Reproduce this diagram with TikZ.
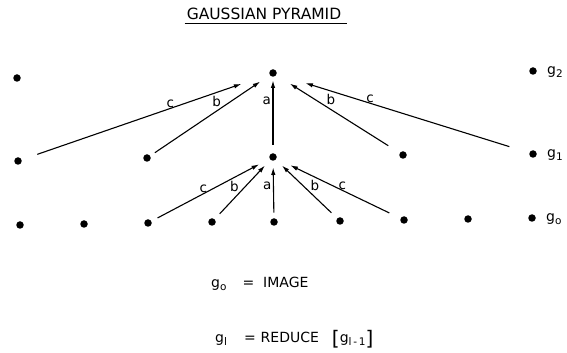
\documentclass[tikz,border=0pt]{standalone}
\usepackage{fontspec}
\setmainfont{DejaVu Sans}
\usetikzlibrary{arrows.meta,positioning}

\newcommand{\bigbrk}[1]{\raisebox{-3pt}{\fontsize{20}{20}\selectfont #1}}
\newcommand{\lowsub}[1]{\raisebox{-3pt}{\fontsize{10.5}{10.5}\selectfont #1}}

\begin{document}
\begin{tikzpicture}[
    x=1pt, y=1pt,
    dot/.style={circle, fill=black, inner sep=0pt, minimum size=7.5pt},
    link/.style={-{Latex[length=7.5pt,width=4.5pt]}, line width=1.1pt},
    lbl/.style={font=\fontsize{13.5}{13.5}\selectfont, inner sep=0.5pt},
    level/.style={font=\fontsize{14}{14}\selectfont, inner sep=0pt},
    formula/.style={font=\fontsize{14}{14}\selectfont, inner sep=0pt, anchor=base west}
  ]
  \useasboundingbox (0,0) rectangle (567,353);

  % Title
  \node[font=\fontsize{15.5}{15.5}\selectfont, inner sep=0pt] (title) at (264,339) {GAUSSIAN PYRAMID};
  \draw[line width=1.1pt] ([xshift=-2pt,yshift=-3pt]title.south west) -- ([xshift=6pt,yshift=-3pt]title.south east);

  % Level 0
  \node[dot] (b0) at (20,128) {};
  \node[dot] (b1) at (84,129) {};
  \node[dot] (b2) at (148,130) {};
  \node[dot] (b3) at (212,131) {};
  \node[dot] (b4) at (274,131) {};
  \node[dot] (b5) at (340,132) {};
  \node[dot] (b6) at (404,133) {};
  \node[dot] (b7) at (468,134) {};
  \node[dot] (b8) at (532,135) {};

  % Level 1
  \node[dot] (m0) at (18,192) {};
  \node[dot] (m2) at (147,195) {};
  \node[dot] (m4) at (273,196) {};
  \node[dot] (m6) at (403,198) {};
  \node[dot] (m8) at (533,199) {};

  % Level 2
  \node[dot] (t0) at (17,275) {};
  \node[dot] (t4) at (273,280) {};
  \node[dot] (t8) at (533,282) {};

  % Level names
  \node[level, right=10pt of t8, yshift=-1pt] (n2) {g\lowsub{2}};
  \node[level, right=10pt of m8, yshift=-1pt] (n1) {g\lowsub{1}};
  \node[level, right=10pt of b8, yshift=-1pt] (n0) {g\lowsub{o}};

  % REDUCE: level 1 -> level 2
  \draw[link, shorten <=16.5pt, shorten >=29.5pt] (m0) -- node[lbl, pos=0.6, above] (c1l) {c} (t4);
  \draw[link, shorten <=5.5pt, shorten >=11.5pt] (m2) -- node[lbl, pos=0.6, above left] (b1l) {b} (t4);
  \draw[link, shorten <=8.5pt, shorten >=3.5pt] (m4) -- node[lbl, pos=0.68, left=1pt] (a1) {a} (t4);
  \draw[link, shorten <=13.5pt, shorten >=16pt] (m6) -- node[lbl, pos=0.6, above right] (b1r) {b} (t4);
  \draw[link, shorten <=20.8pt, shorten >=30pt] (m8) -- node[lbl, pos=0.63, above] (c1r) {c} (t4);

  % REDUCE: level 0 -> level 1
  \draw[link, shorten <=6.8pt, shorten >=11.8pt] (b2) -- node[lbl, pos=0.44, above] (c0l) {c} (m4);
  \draw[link, shorten <=7.3pt, shorten >=7.8pt] (b3) -- node[lbl, pos=0.45, above left=0pt] (b0l) {b} (m4);
  \draw[link, shorten <=5.5pt, shorten >=6.5pt] (b4) -- node[lbl, pos=0.57, left=1pt] (a0) {a} (m4);
  \draw[link, shorten <=7.9pt, shorten >=8.5pt] (b5) -- node[lbl, pos=0.45, above right=0pt] (b0r) {b} (m4);
  \draw[link, shorten <=12.3pt, shorten >=15.3pt] (b6) -- node[lbl, pos=0.47, above] (c0r) {c} (m4);

  % Definitions
  \node[formula] (def0) at (211,65) {g\lowsub{o}\hspace{16pt}=\hspace{9pt}IMAGE};
  \node[formula] (def1) at (215,10) {g\lowsub{l}\hspace{17pt}=\hspace{5pt}REDUCE\hspace{13pt}\bigbrk{[}g\lowsub{l\,-\,1}\bigbrk{]}};
\end{tikzpicture}
\end{document}
